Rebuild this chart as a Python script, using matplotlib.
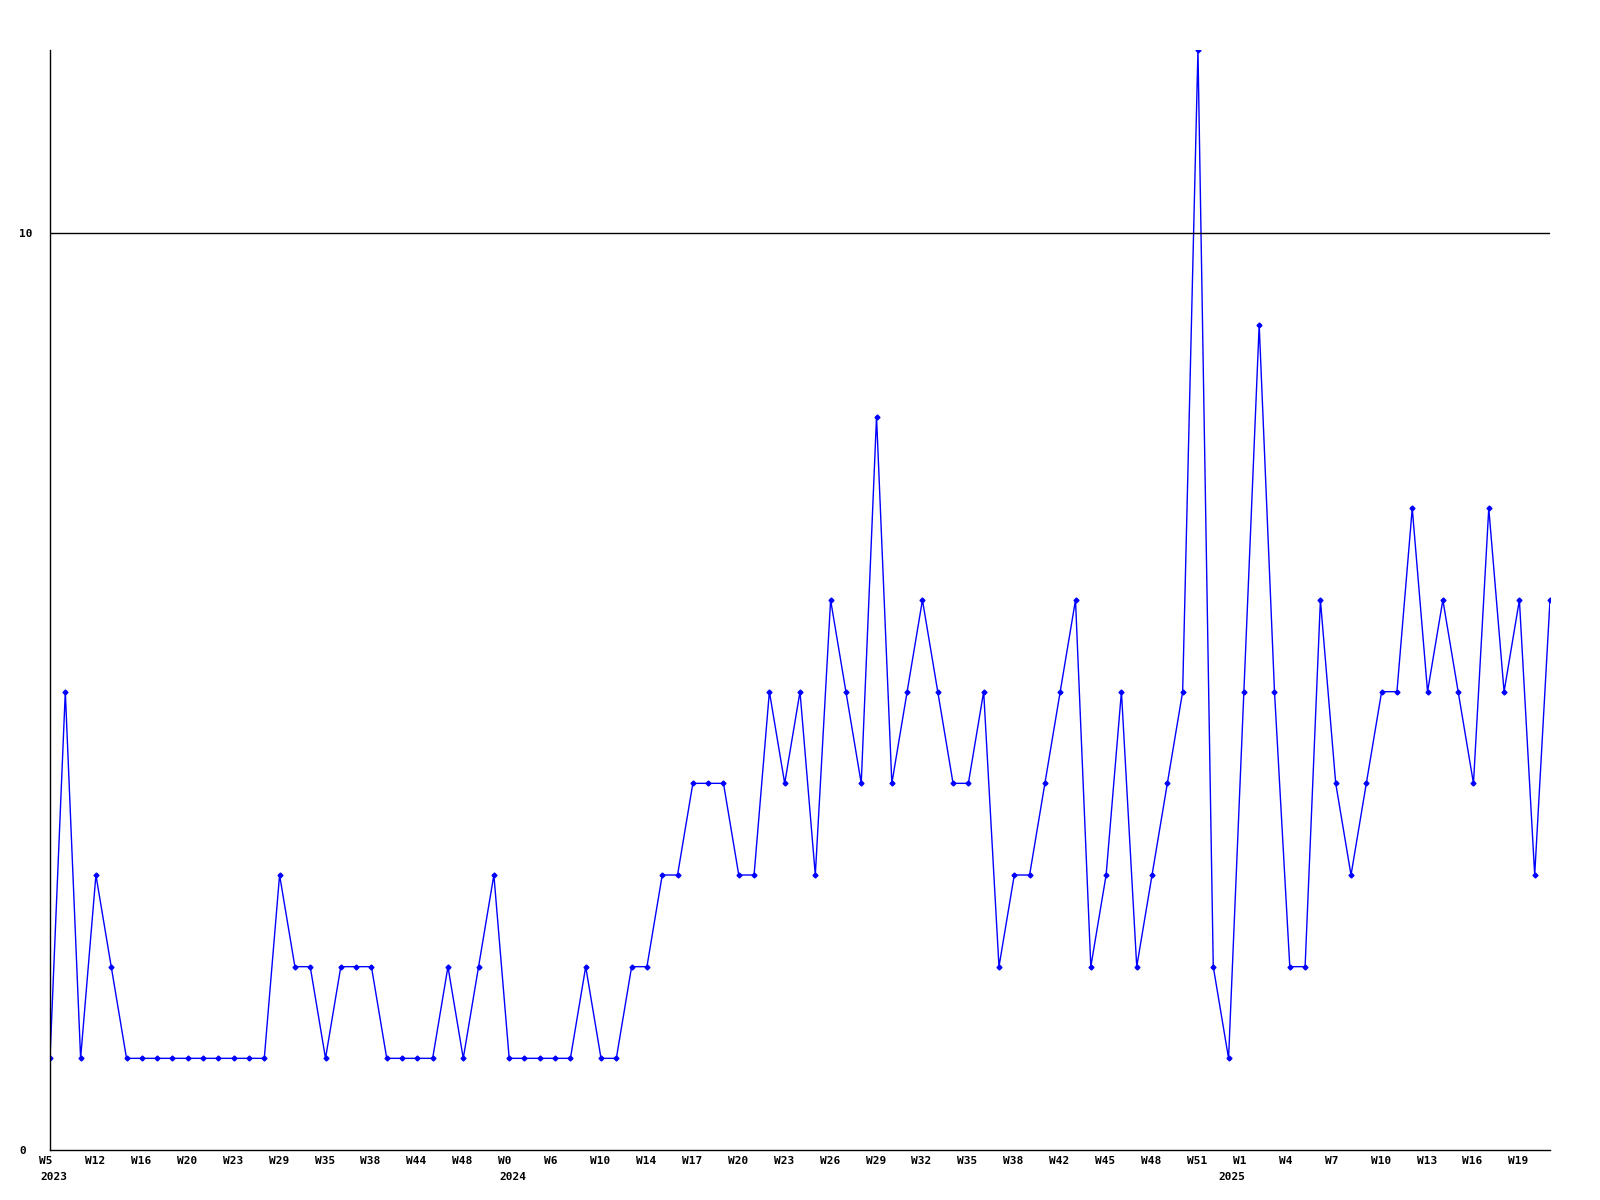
import numpy as np
import matplotlib
matplotlib.use("Agg")
import matplotlib.pyplot as plt
import matplotlib.transforms as mtransforms

# weekly counts, one point per week
counts = [1, 5, 1, 3, 2, 1, 1, 1, 1, 1,
          1, 1, 1, 1, 1, 3, 2, 2, 1, 2,
          2, 2, 1, 1, 1, 1, 2, 1, 2, 3,
          1, 1, 1, 1, 1, 2, 1, 1, 2, 2,
          3, 3, 4, 4, 4, 3, 3, 5, 4, 5,
          3, 6, 5, 4, 8, 4, 5, 6, 5, 4,
          4, 5, 2, 3, 3, 4, 5, 6, 2, 3,
          5, 2, 3, 4, 5, 12, 2, 1, 5, 9,
          5, 2, 2, 6, 4, 3, 4, 5, 5, 7,
          5, 6, 5, 4, 7, 5, 6, 3, 6]

# every third week gets a label
week_labels = ["W5", "W12", "W16", "W20", "W23", "W29", "W35", "W38", "W44", "W48",
               "W0", "W6", "W10", "W14", "W17", "W20", "W23", "W26", "W29", "W32",
               "W35", "W38", "W42", "W45", "W48", "W51",
               "W1", "W4", "W7", "W10", "W13", "W16", "W19"]
year_labels = {0: "2023", 10: "2024", 26: "2025"}
year_shift_px = {0: -10, 10: -10, 26: -26}

FONT = {"family": "DejaVu Sans Mono", "weight": "bold", "size": 8}

fig = plt.figure(figsize=(16, 12), dpi=100)
ax = fig.add_axes([50 / 1600, 50 / 1200, 1500 / 1600, 1100 / 1200])

x = np.arange(len(counts))
ax.plot(x, counts, color="#0000ff", lw=1, marker="D", markersize=2.5)

ax.set_xlim(0, len(counts) - 1)
ax.set_ylim(0, 12)
ax.axhline(10, color="black", lw=1)

for side in ["top", "right"]:
    ax.spines[side].set_visible(False)
for side in ["left", "bottom"]:
    ax.spines[side].set_linewidth(1)

ax.set_yticks([0, 10])
ax.set_yticklabels(["0", "10"], fontdict=FONT)
ax.tick_params(axis="y", length=0, pad=22)
for lab in ax.get_yticklabels():
    lab.set_horizontalalignment("left")

tick_pos = np.arange(0, len(counts), 3)[:len(week_labels)]
ax.set_xticks(tick_pos)
ax.set_xticklabels(week_labels, fontdict=FONT)
ax.tick_params(axis="x", length=0, pad=4)
shift = mtransforms.ScaledTranslation(-11 / 100, 0, fig.dpi_scale_trans)
for lab in ax.get_xticklabels():
    lab.set_horizontalalignment("left")
    lab.set_transform(lab.get_transform() + shift)

for k, yr in year_labels.items():
    tr = ax.transData + mtransforms.ScaledTranslation(year_shift_px[k] / 100, 0,
                                                      fig.dpi_scale_trans)
    ax.text(tick_pos[k], -0.29, yr, fontdict=FONT, ha="left", va="center",
            transform=tr)

fig.savefig("out.png", dpi=100, facecolor="white")
